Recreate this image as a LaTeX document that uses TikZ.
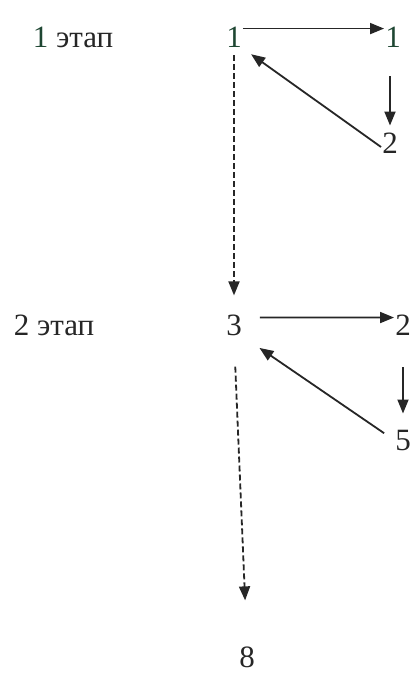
\documentclass[tikz,border=0pt]{standalone}
\usepackage{fontspec}
\setmainfont{Liberation Serif}
\usepackage{xcolor}
\usepackage{tikz}
\usetikzlibrary{arrows.meta}

\definecolor{onegreen}{RGB}{30,70,50}

\begin{document}
\begin{tikzpicture}[x=1pt,y=-1pt,
    num/.style={inner sep=1pt,font=\fontsize{31}{34}\selectfont,text=black!85},
    stage/.style={num},
    arrow/.style={-{Triangle[length=14pt,width=11pt]},line width=1.8pt,draw=black!85},
    darrow/.style={arrow,dash pattern=on 6pt off 3pt}
  ]
    \useasboundingbox (0,0) rectangle (413,675);
    % stage labels
    \node[stage] (st1) at (73,37) {\textcolor{onegreen}{1} этап};
    \node[stage] (st2) at (54,325) {2 этап};
    % first stage
    \node[num,text=onegreen] (a1) at (234,37) {1};
    \node[num,text=onegreen] (b1) at (393,37) {1};
    \node[num] (c1) at (390,143) {2};
    % second stage
    \node[num] (a2) at (234,325) {3};
    \node[num] (b2) at (403,325) {2};
    \node[num] (c2) at (403,440) {5};
    \node[num] (d) at (247,657) {8};

    \draw[arrow] ([yshift=-3pt]a1.north east) -- ([yshift=-3pt]b1.north west);
    \draw[arrow,shorten <=28pt,shorten >=6pt] (c1.north |- b1.south) -- (c1.north);
    \draw[arrow,shorten >=10pt] ([yshift=-4pt]c1.west) -- (a1.south east);
    \draw[darrow,shorten <=7pt,shorten >=18pt] (a1.south) -- (a2.north);

    \draw[arrow,shorten <=17pt] ([yshift=-4pt]a2.north east) -- ([yshift=-4pt]b2.north west);
    \draw[arrow,shorten <=31pt,shorten >=15pt] (c2.north |- b2.south) -- (c2.north);
    \draw[arrow,shorten <=12pt,shorten >=20pt] (c2.west) -- (a2.south east);
    \draw[darrow,shorten <=30pt,shorten >=45pt] (a2.south) -- (d.north);
  \end{tikzpicture}
\end{document}
